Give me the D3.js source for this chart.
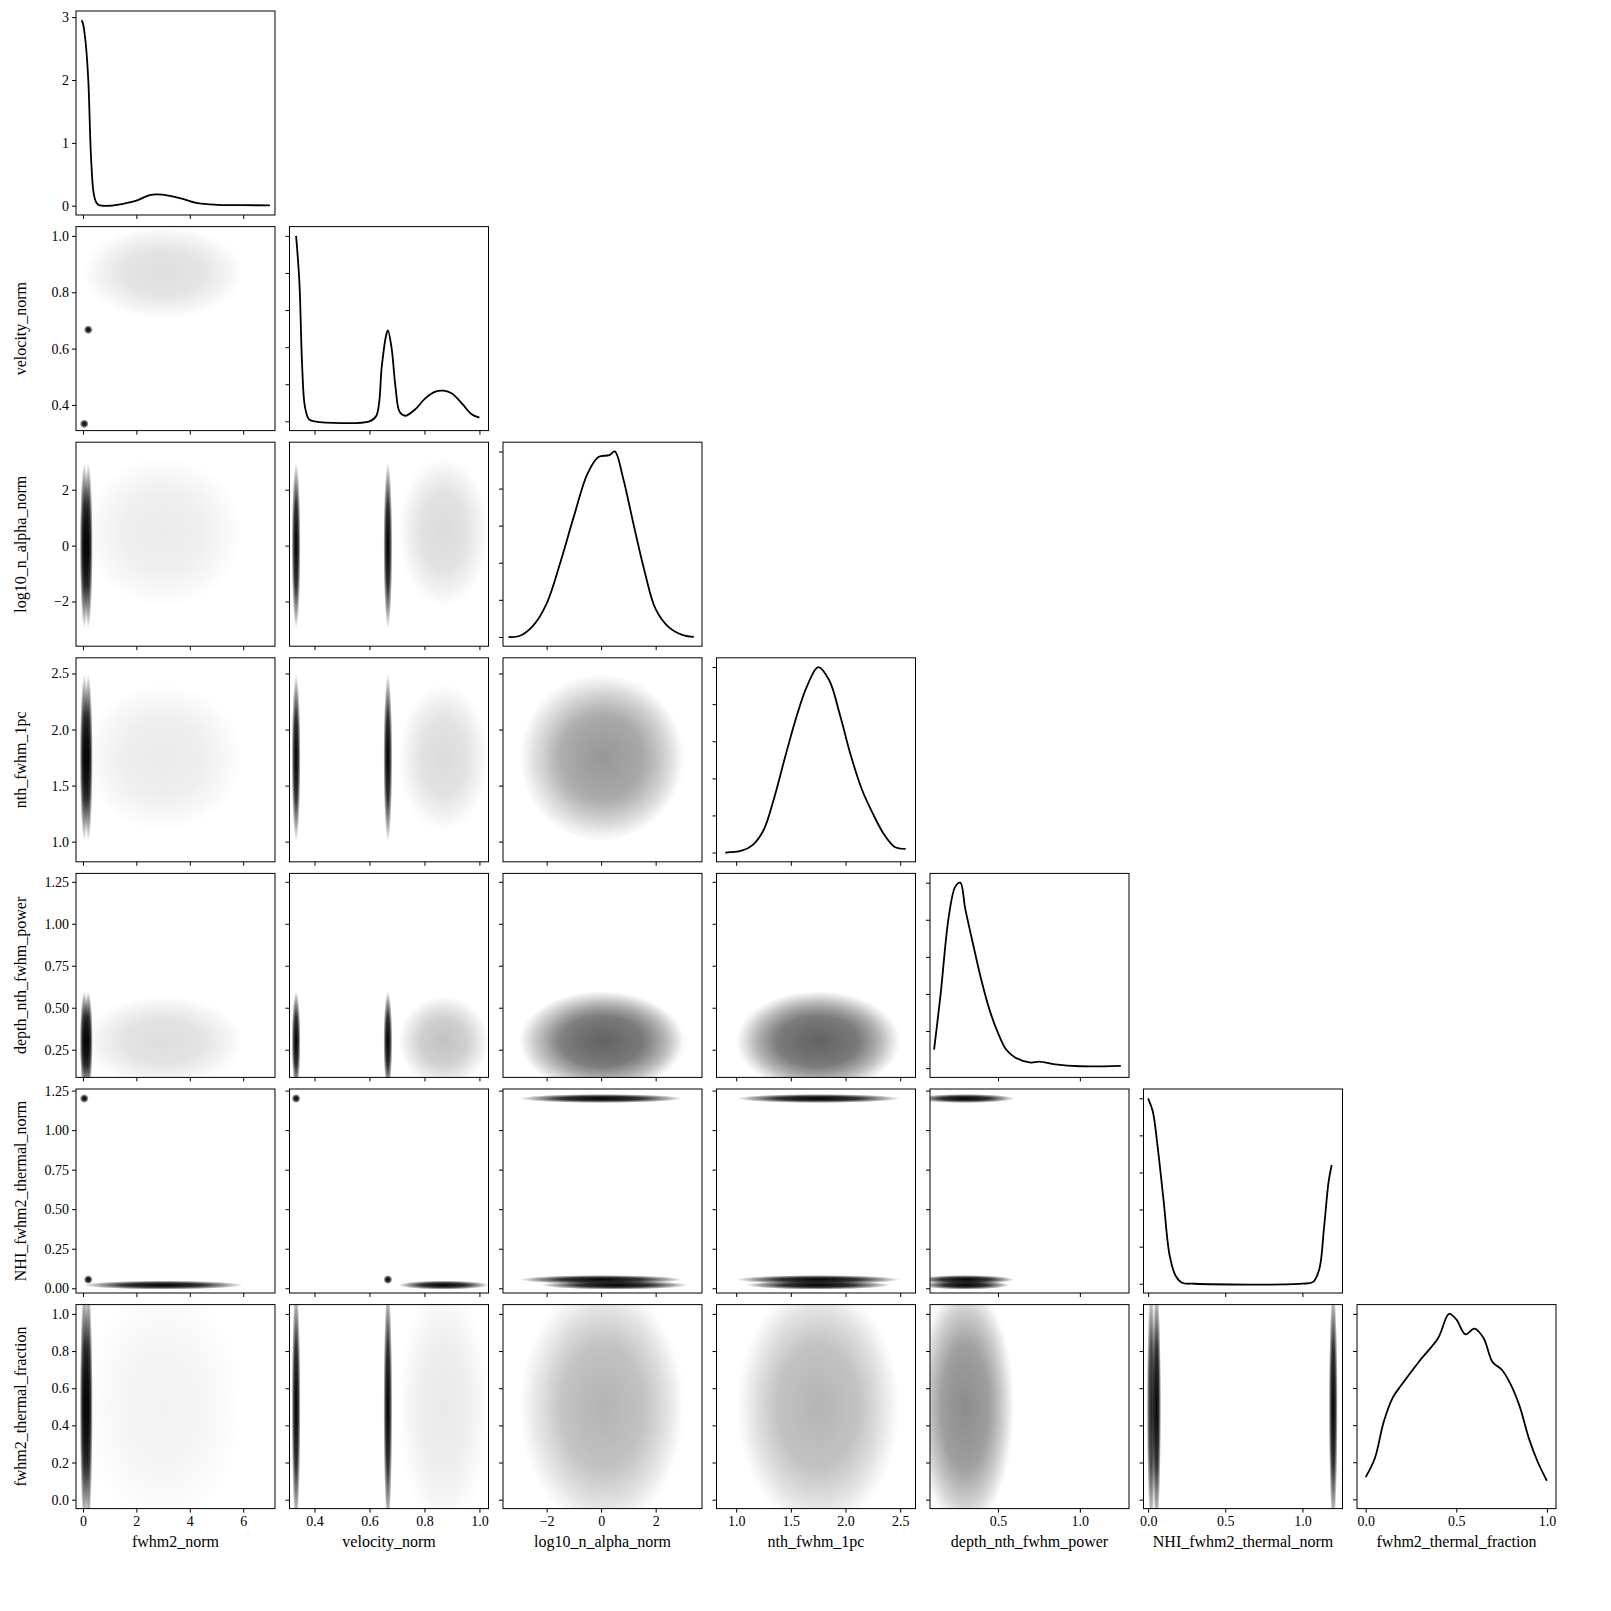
<!DOCTYPE html>
<html><head><meta charset="utf-8">
<script src="https://cdn.jsdelivr.net/npm/d3@7"></script>
<style>
body{margin:0;background:#fff}
text{font-family:"Liberation Serif","DejaVu Serif",serif}
</style></head><body>
<svg id="chart" width="1611" height="1611"></svg>
<script>
// variables of the corner plot
const names = ["fwhm2_norm","velocity_norm","log10_n_alpha_norm","nth_fwhm_1pc","depth_nth_fwhm_power","NHI_fwhm2_thermal_norm","fwhm2_thermal_fraction"];
const domains = [[-0.26,7.19],[0.309,1.033],[-3.6,3.7],[0.82,2.64],[0.085,1.3],[-0.03,1.26],[-0.048,1.05]];
const xTicks = [[0,2,4,6],[0.4,0.6,0.8,1.0],[-2,0,2],[1.0,1.5,2.0,2.5],[0.5,1.0],[0,0.5,1.0],[0,0.5,1.0]];
const xFmt = [d3.format("d"),d3.format(".1f"),d3.format("d"),d3.format(".1f"),d3.format(".1f"),d3.format(".1f"),d3.format(".1f")];
const yTicks = [null,[0.4,0.6,0.8,1.0],[-2,0,2],[1.0,1.5,2.0,2.5],[0.25,0.5,0.75,1.0,1.25],[0,0.25,0.5,0.75,1.0,1.25],[0,0.2,0.4,0.6,0.8,1.0]];
const yFmt = [null,d3.format(".1f"),d3.format("d"),d3.format(".1f"),d3.format(".2f"),d3.format(".2f"),d3.format(".1f")];

// sample populations (read from the clouds): weight, mean and sd per variable
const popWeight = [0.4, 0.45, 0.15];
const popMean = [
  [0.05, 0.333, 0.0, 1.75, 0.30, 1.200, 0.5],
  [0.20, 0.667, 0.0, 1.75, 0.30, 0.055, 0.5],
  [3.00, 0.870, 0.5, 1.75, 0.30, 0.020, 0.5]
];
const popSd = [
  [0.02, 0.002, 1.0, 0.25, 0.10, 0.004, 0.22],
  [0.03, 0.003, 1.0, 0.25, 0.10, 0.004, 0.22],
  [1.00, 0.055, 0.9, 0.22, 0.09, 0.008, 0.22]
];

// diagonal KDE curves [x, density]
const kde = [
  [[-0.05,2.95],[0.0,2.9],[0.1,2.6],[0.2,2.0],[0.3,0.8],[0.4,0.2],[0.5,0.05],[0.6,0.01],[1,0.0],[1.5,0.03],[2,0.08],[2.5,0.17],[2.8,0.18],[3.2,0.16],[3.8,0.1],[4.3,0.04],[5,0.015],[6,0.01],[7,0.005]],
  [[0.333,1.0],[0.345,0.75],[0.355,0.3],[0.365,0.08],[0.38,0.01],[0.4,0.0],[0.6,0.0],[0.625,0.03],[0.645,0.3],[0.66,0.46],[0.667,0.49],[0.68,0.4],[0.695,0.18],[0.71,0.05],[0.73,0.03],[0.77,0.07],[0.8,0.12],[0.84,0.16],[0.87,0.165],[0.9,0.15],[0.94,0.09],[0.97,0.04],[1.0,0.02]],
  [[-3.4,0.0],[-3,0.005],[-2.5,0.06],[-2,0.18],[-1.5,0.4],[-1,0.65],[-0.5,0.88],[-0.1,0.97],[0.3,0.98],[0.5,1.0],[0.8,0.86],[1.2,0.6],[1.6,0.35],[2,0.15],[2.5,0.05],[3,0.01],[3.4,0.0]],
  [[0.9,0.0],[1.05,0.01],[1.15,0.04],[1.25,0.12],[1.35,0.3],[1.45,0.52],[1.55,0.73],[1.65,0.9],[1.75,1.0],[1.85,0.93],[1.95,0.74],[2.05,0.52],[2.15,0.34],[2.25,0.21],[2.35,0.1],[2.45,0.03],[2.55,0.02]],
  [[0.11,0.1],[0.15,0.4],[0.2,0.82],[0.24,0.98],[0.27,1.0],[0.3,0.86],[0.35,0.66],[0.4,0.47],[0.45,0.31],[0.5,0.19],[0.55,0.1],[0.6,0.06],[0.7,0.03],[0.75,0.035],[0.85,0.02],[1.0,0.01],[1.25,0.012]],
  [[0.0,1.0],[0.03,0.93],[0.06,0.75],[0.1,0.45],[0.14,0.15],[0.18,0.04],[0.22,0.005],[0.3,0.0],[1.0,0.0],[1.07,0.01],[1.11,0.08],[1.14,0.3],[1.17,0.55],[1.19,0.64]],
  [[0.0,0.12],[0.05,0.22],[0.1,0.42],[0.15,0.55],[0.2,0.62],[0.3,0.75],[0.4,0.87],[0.46,1.0],[0.5,0.97],[0.55,0.89],[0.6,0.92],[0.65,0.87],[0.7,0.74],[0.75,0.7],[0.8,0.62],[0.85,0.5],[0.9,0.33],[0.95,0.2],[1.0,0.1]]
];

const x0 = 76, y0 = 11, pitchX = 213.5, pitchY = 215.6, W = 199, H = 204;
const svg = d3.select("#chart");
const defs = svg.append("defs");
const grad = defs.append("radialGradient").attr("id","cloud");
grad.append("stop").attr("offset","0").attr("stop-color","#000").attr("stop-opacity",1);
grad.append("stop").attr("offset","0.5").attr("stop-color","#000").attr("stop-opacity",0.8);
grad.append("stop").attr("offset","0.8").attr("stop-color","#000").attr("stop-opacity",0.35);
grad.append("stop").attr("offset","1").attr("stop-color","#000").attr("stop-opacity",0);

const n = names.length;
for (let r = 0; r < n; r++) {
  for (let c = 0; c <= r; c++) {
    const g = svg.append("g").attr("transform", "translate(" + (x0 + c * pitchX) + "," + (y0 + r * pitchY) + ")");
    const xs = d3.scaleLinear().domain(domains[c]).range([0, W]);
    defs.append("clipPath").attr("id", "clip" + r + c).append("rect").attr("width", W).attr("height", H);
    const body = g.append("g").attr("clip-path", "url(#clip" + r + c + ")");
    let ys;
    if (r === c) {
      const ymax = d3.max(kde[r], d => d[1]);
      ys = d3.scaleLinear().domain([-0.05 * ymax, 1.05 * ymax]).range([H, 0]);
      body.append("path").datum(kde[r])
        .attr("d", d3.line().x(d => xs(d[0])).y(d => ys(d[1])).curve(d3.curveCatmullRom))
        .attr("fill", "none").attr("stroke", "#000").attr("stroke-width", 1.8);
      const yAx = d3.axisLeft(ys).tickSize(4).tickSizeOuter(0);
      if (r === 0) yAx.tickValues([0, 1, 2, 3]).tickFormat(d3.format("d"));
      else yAx.ticks(4).tickFormat("");
      g.append("g").call(yAx).call(a => a.select(".domain").remove());
    } else {
      ys = d3.scaleLinear().domain(domains[r]).range([H, 0]);
      popWeight.forEach((w, p) => {
        const rx = Math.max(4.5, 3 * Math.abs(xs(popSd[p][c]) - xs(0)));
        const ry = Math.max(4.5, 3 * Math.abs(ys(popSd[p][r]) - ys(0)));
        const alpha = Math.min(1, 3200 * w / (rx * ry));
        body.append("ellipse")
          .attr("cx", xs(popMean[p][c])).attr("cy", ys(popMean[p][r]))
          .attr("rx", rx).attr("ry", ry)
          .attr("fill", "url(#cloud)").attr("fill-opacity", alpha);
      });
      const yAx = d3.axisLeft(ys).tickSize(4).tickSizeOuter(0).tickValues(yTicks[r]);
      yAx.tickFormat(c === 0 ? (d => yFmt[r](d).replace("-", "\u2212")) : "");
      g.append("g").call(yAx).call(a => a.select(".domain").remove());
    }
    const xAx = d3.axisBottom(xs).tickSize(4).tickSizeOuter(0).tickValues(xTicks[c]);
    xAx.tickFormat(r === n - 1 ? (d => xFmt[c](d).replace("-", "\u2212")) : "");
    g.append("g").attr("transform", "translate(0," + H + ")").call(xAx).call(a => a.select(".domain").remove());
    g.selectAll(".tick text").attr("font-size", 14).attr("font-family", "Liberation Serif, serif");
    g.append("rect").attr("width", W).attr("height", H).attr("fill", "none").attr("stroke", "#000").attr("stroke-width", 1);
    if (r === n - 1) g.append("text").attr("x", W / 2).attr("y", H + 38).attr("text-anchor", "middle").attr("font-size", 16).text(names[c]);
    if (c === 0 && r > 0) g.append("text").attr("transform", "translate(-50," + H / 2 + ") rotate(-90)").attr("text-anchor", "middle").attr("font-size", 16).text(names[r]);
  }
}
</script></body></html>
